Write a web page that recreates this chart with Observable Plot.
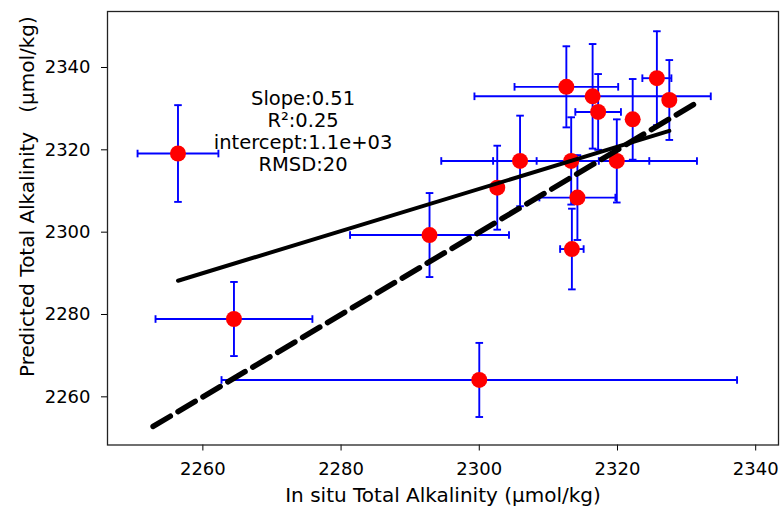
<!DOCTYPE html>
<html>
<head>
<meta charset="utf-8">
<script src="https://cdn.jsdelivr.net/npm/d3@7"></script>
<script src="https://cdn.jsdelivr.net/npm/@observablehq/plot@0.6"></script>
<style>
  html, body { margin: 0; padding: 0; background: #fff; }
</style>
</head>
<body>
<div id="chart"></div>
<script>
// In situ (x) vs predicted (y) total alkalinity, µmol/kg
const inSitu    = [2256.4, 2312.6, 2316.4, 2317.2, 2322.2, 2325.7, 2327.5, 2305.9, 2313.3, 2319.9, 2314.2, 2313.4, 2302.6, 2292.8, 2264.5, 2300.0];
const predicted = [2319.1, 2335.3, 2333.0, 2329.2, 2327.4, 2337.4, 2332.1, 2317.3, 2317.3, 2317.3, 2308.4, 2295.9, 2310.8, 2299.3, 2278.9, 2264.1];
const inSituErr = [5.85, 7.5, 17.1, 3.3, 0.8, 2.1, 0.8, 11.4, 11.3, 11.6, 5.5, 1.7, 0.8, 11.5, 11.35, 37.3];
const predErr   = [11.75, 9.85, 12.7, 9.2, 9.8, 11.4, 9.7, 11.0, 10.6, 10.1, 10.3, 9.8, 10.2, 10.2, 9.0, 9.0];

// regression line (slope 0.51) and 1:1 line
const fitX = [2256.4, 2327.5];
const fitY = [2288.2, 2324.6];
const oneToOneX = [2252.8, 2331.2];
const oneToOneY = [2252.8, 2331.2];

const xTicks = [2260, 2280, 2300, 2320, 2340];
const yTicks = [2260, 2280, 2300, 2320, 2340];

const statsLines = ["Slope:0.51", "R²:0.25", "intercept:1.1e+03", "RMSD:20"];
const statsPos = [{x: 2274.5, y: 2324.6}];

const xLabel = "In situ Total Alkalinity (µmol/kg)";
const yLabel = "Predicted Total Alkalinity\u00a0\u00a0\u00a0(µmol/kg)";

const pts = inSitu.map((x, i) => ({x, y: predicted[i], xe: inSituErr[i], ye: predErr[i]}));
const fit = fitX.map((x, i) => ({x, y: fitY[i]}));
const one = oneToOneX.map((x, i) => ({x, y: oneToOneY[i]}));

const hCap = {draw(ctx, size) { const w = Math.sqrt(size / Math.PI); ctx.moveTo(-w, 0); ctx.lineTo(w, 0); }};
const vCap = {draw(ctx, size) { const w = Math.sqrt(size / Math.PI); ctx.moveTo(0, -w); ctx.lineTo(0, w); }};

const blue = "#0000ff";
const capR = 3.8;
const ebW = 1.9;

const chart = Plot.plot({
  width: 783,
  height: 509,
  marginLeft: 107,
  marginRight: 5,
  marginTop: 11,
  marginBottom: 64.5,
  style: {fontFamily: "DejaVu Sans", fontSize: "18px", color: "#000", background: "#fff"},
  x: {domain: [2246.2, 2343.3]},
  y: {domain: [2248.3, 2353.6]},
  marks: [
    Plot.axisX({ticks: xTicks, tickSize: 6, tickPadding: 11, fontSize: 18, label: null, tickFormat: d => String(d)}),
    Plot.axisY({ticks: yTicks, tickSize: 6, tickPadding: 11, fontSize: 18, label: null, tickFormat: d => String(d)}),
    // horizontal error bars
    Plot.ruleY(pts, {y: "y", x1: d => d.x - d.xe, x2: d => d.x + d.xe, stroke: blue, strokeWidth: ebW}),
    Plot.dot(pts, {x: d => d.x - d.xe, y: "y", symbol: vCap, r: capR, stroke: blue, strokeWidth: ebW, fill: "none"}),
    Plot.dot(pts, {x: d => d.x + d.xe, y: "y", symbol: vCap, r: capR, stroke: blue, strokeWidth: ebW, fill: "none"}),
    // vertical error bars
    Plot.ruleX(pts, {x: "x", y1: d => d.y - d.ye, y2: d => d.y + d.ye, stroke: blue, strokeWidth: ebW}),
    Plot.dot(pts, {x: "x", y: d => d.y - d.ye, symbol: hCap, r: capR, stroke: blue, strokeWidth: ebW, fill: "none"}),
    Plot.dot(pts, {x: "x", y: d => d.y + d.ye, symbol: hCap, r: capR, stroke: blue, strokeWidth: ebW, fill: "none"}),
    // points
    Plot.dot(pts, {x: "x", y: "y", r: 8, fill: "#ff0000", stroke: "none"}),
    // lines
    Plot.line(fit, {x: "x", y: "y", stroke: "#000", strokeWidth: 4}),
    Plot.line(one, {x: "x", y: "y", stroke: "#000", strokeWidth: 5.5, strokeDasharray: "20 9"}),
    // stats annotation
    Plot.text(statsPos, {x: "x", y: "y", text: () => statsLines.join("\n"), fontSize: 19.5, lineHeight: 1.13, textAnchor: "middle", lineAnchor: "middle", fill: "#000"}),
    // axis labels
    Plot.text([xLabel], {text: d => d, frameAnchor: "bottom", dy: 51, textAnchor: "middle", lineAnchor: "middle", fontSize: 20, fill: "#000"}),
    Plot.text([yLabel], {text: d => d, frameAnchor: "left", rotate: -90, dx: -80, dy: -31.7, textAnchor: "middle", lineAnchor: "middle", fontSize: 20, fill: "#000"}),
    Plot.frame({stroke: "#222", strokeWidth: 1.3})
  ]
});

document.getElementById("chart").appendChild(chart);
</script>
</body>
</html>
